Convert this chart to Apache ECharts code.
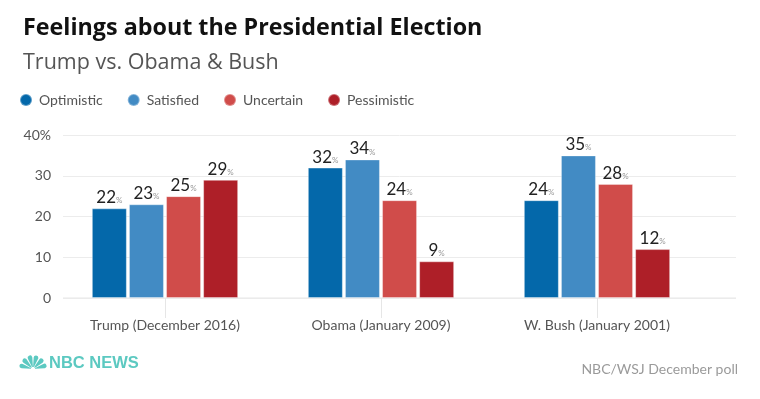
<!DOCTYPE html>
<html><head><meta charset="utf-8">
<script src="https://cdn.jsdelivr.net/npm/echarts@6/dist/echarts.min.js"></script>
<style>html,body{margin:0;padding:0;background:#fff}#c{width:760px;height:399px}</style>
</head><body><div id="c"></div>
<script>
const categories = ['Trump (December 2016)', 'Obama (January 2009)', 'W. Bush (January 2001)'];
const seriesNames = ['Optimistic', 'Satisfied', 'Uncertain', 'Pessimistic'];
const optimistic = [22, 32, 24];
const satisfied = [23, 34, 35];
const uncertain = [25, 24, 28];
const pessimistic = [29, 9, 12];
const yTicks = [0, 10, 20, 30, 40];
const colors = ['#0468aa', '#428bc4', '#d04c4a', '#ae1f28'];
const FONT = 'Lato';
const HFONT = 'Open Sans';

const values = [optimistic, satisfied, uncertain, pessimistic];
const chart = echarts.init(document.getElementById('c'), null, {renderer: 'canvas'});

// peacock logo feathers
const peacock = [];
for (let k = 0; k < 6; k++) {
  const a0 = Math.PI + k * Math.PI / 6 + 0.06;
  const a1 = Math.PI + (k + 1) * Math.PI / 6 - 0.06;
  peacock.push({type: 'sector', silent: true,
    shape: {cx: 33, cy: 369, r0: 2, r: 14, startAngle: a0, endAngle: a1, cornerRadius: 3},
    style: {fill: '#5cc9c1'}});
}

const option = {
  animation: false,
  color: colors,
  textStyle: {fontFamily: FONT},
  title: [
    {text: 'Feelings about the Presidential Election', left: 18, top: 12,
     textStyle: {fontSize: 23.3, fontWeight: 'bold', color: '#111', fontFamily: HFONT}},
    {text: 'Trump vs. Obama & Bush', left: 18, top: 47,
     textStyle: {fontSize: 21.5, fontWeight: 'normal', color: '#555', fontFamily: HFONT}},
    {text: 'NBC/WSJ December poll', right: 17, top: 357,
     textStyle: {fontSize: 14, fontWeight: 'normal', color: '#9a9a9a', fontFamily: FONT}},
    {text: 'NBC NEWS', left: 49, top: 355, padding: 0,
     textStyle: {fontSize: 16.5, fontWeight: 'bold', color: '#5cc9c1', fontFamily: 'Liberation Sans'}}
  ],
  graphic: peacock,
  legend: {
    left: 19, top: 93, padding: 0, icon: 'circle', itemWidth: 12, itemHeight: 12, itemGap: 24,
    data: seriesNames,
    textStyle: {fontSize: 14, color: '#555', fontFamily: FONT, padding: [0, 0, 0, 2]}
  },
  grid: [
    {left: 63, right: 24, top: 135, bottom: 101},
    {left: 57, width: 648, top: 135, bottom: 101}
  ],
  xAxis: [
    {type: 'value', gridIndex: 0, min: 0, max: 1, show: true,
     axisLine: {show: false}, axisTick: {show: false}, axisLabel: {show: false}, splitLine: {show: false}},
    {type: 'category', gridIndex: 1, data: categories,
     axisLine: {show: false},
     axisTick: {show: true, alignWithLabel: true, length: 20, lineStyle: {color: '#e6e6e6'}},
     axisLabel: {fontSize: 14, color: '#555', margin: 20, fontFamily: FONT}}
  ],
  yAxis: [
    {type: 'value', gridIndex: 0, min: 0, max: 40, interval: 10,
     axisLine: {show: false}, axisTick: {show: false},
     axisLabel: {fontSize: 14, color: '#555', margin: 12, fontFamily: FONT,
       formatter: v => v === 40 ? v + '%' : String(v)},
     splitLine: {lineStyle: {color: '#ececec'}}},
    {type: 'value', gridIndex: 1, min: 0, max: 40, interval: 10, show: false}
  ],
  series: seriesNames.map((name, i) => ({
    name, type: 'bar', xAxisIndex: 1, yAxisIndex: 1,
    data: values[i], barWidth: 35, barGap: '6%',
    itemStyle: {color: colors[i], borderColor: 'rgba(255,255,255,0.35)', borderWidth: 1},
    label: {show: true, position: 'top', distance: 2,
      formatter: p => '{n|' + p.value + '}{p|%}',
      rich: {n: {fontSize: 17, color: '#222', fontFamily: FONT},
             p: {fontSize: 8, color: '#999', fontFamily: FONT, padding: [6, 0, 0, 0]}}}
  })).concat([{
    type: 'line', xAxisIndex: 0, yAxisIndex: 0, data: [[0, 0], [1, 0]], symbol: 'none', silent: true,
    lineStyle: {color: '#e6e6e6', width: 1}, tooltip: {show: false}, legendHoverLink: false,
    z: 1
  }])
};
chart.setOption(option);
</script></body></html>
